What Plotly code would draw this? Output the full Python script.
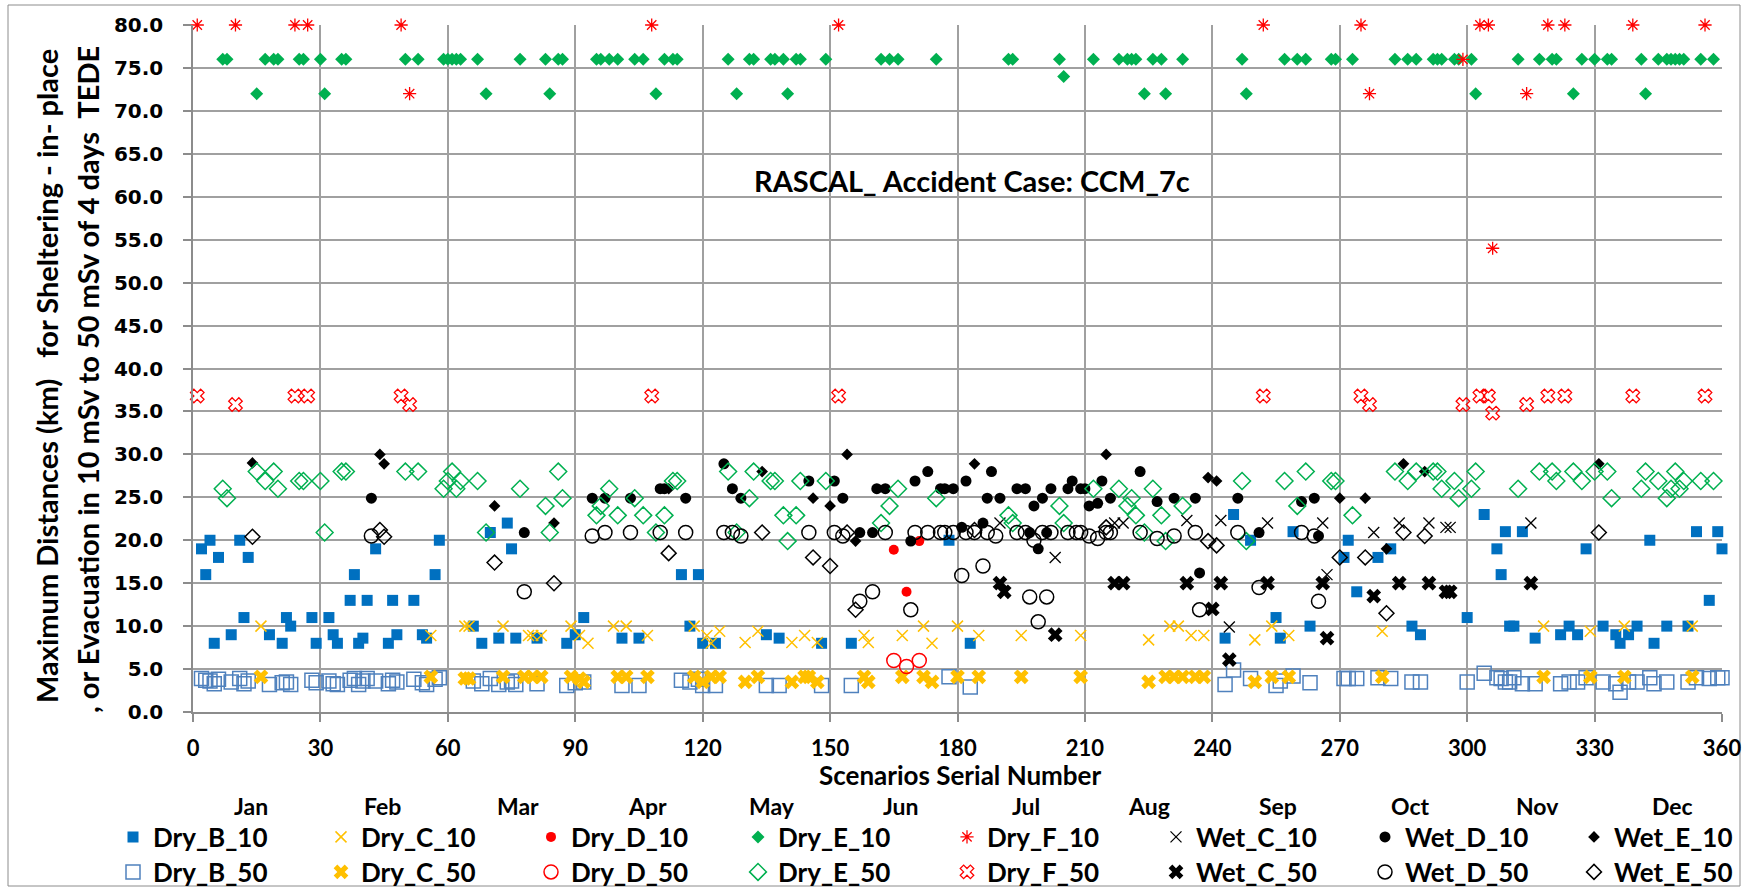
import plotly.graph_objects as go

# ---------------- data ----------------
# Dry, stability class B (scenario number, 10 mSv distance, 50 mSv distance)
dry_b_x = [2, 3, 4, 5, 6, 9, 11, 12, 13, 18, 21, 22, 23, 28, 29, 32, 33, 34, 37, 38,
           39, 40, 41, 43, 46, 47, 48, 52, 54, 55, 57, 58, 66, 68, 70, 72, 74, 75, 76, 81,
           88, 90, 92, 101, 105, 115, 117, 119, 120, 123, 135, 138, 148, 155, 178, 183, 243, 245, 249, 255,
           256, 259, 263, 271, 272, 274, 279, 282, 287, 289, 300, 304, 307, 308, 309, 310, 311, 313, 316, 322,
           324, 326, 328, 332, 335, 336, 338, 340, 343, 344, 347, 352, 354, 357, 359, 360]
dry_b_10 = [19, 16, 20, 8, 18, 9, 20, 11, 18, 9, 8, 11, 10, 11, 8, 11, 9, 8, 13, 16,
            8, 8.6, 13, 19, 8, 13, 9, 13, 9, 8.6, 16, 20, 10, 8, 20.9, 8.6, 22, 19, 8.6, 8.6,
            8, 9, 11, 8.6, 8.6, 16, 10, 16, 8, 8, 9, 8.6, 8, 8, 20, 8, 8.6, 23, 20, 11,
            8.6, 21, 10, 18, 20, 14, 18, 19, 10, 9, 11, 23, 19, 16, 21, 10, 10, 21, 8.6, 9,
            10, 9, 19, 10, 9, 8, 9, 10, 20, 8, 10, 10, 21, 13, 21, 19]
dry_b_50 = [3.9, 3.7, 3.6, 3.3, 3.8, 3.5, 3.9, 3.3, 3.6, 3.2, 3.4, 3.5, 3.2, 3.7, 3.4, 3.6, 3.3, 3.2, 3.7, 3.9,
            3.2, 3.6, 3.9, 3.6, 3.3, 3.7, 3.5, 3.8, 3.4, 3.2, 3.8, 4.0, 3.6, 3.3, 3.9, 3.2, 3.5, 3.6, 3.2, 3.3,
            3.1, 3.4, 3.5, 3.1, 3.1, 3.7, 3.5, 3.8, 3.1, 3.1, 3.1, 3.1, 3.1, 3.1, 4.1, 2.9, 3.2, 4.9, 3.9, 3.1,
            3.6, 4.2, 3.4, 3.9, 3.9, 3.9, 4.0, 3.9, 3.5, 3.5, 3.5, 4.5, 4.0, 3.9, 3.5, 3.5, 4.0, 3.3, 3.3, 3.3,
            3.5, 3.5, 4.0, 3.5, 3.3, 2.3, 3.5, 3.5, 4.0, 3.3, 3.5, 3.5, 4.0, 3.9, 4.0, 4.0]

# Dry, stability class C
dry_c10_x = [16, 56, 64, 65, 73, 79, 80, 82, 89, 91, 93, 99, 102, 107, 118, 121, 122, 124, 130, 133,
             141, 144, 147, 158, 159, 167, 172, 174, 180, 185, 195, 209, 225, 230, 232, 235, 238, 250, 254, 258,
             280, 318, 329, 337, 353]
dry_c10_y = [10.0, 8.9, 10.0, 10.0, 10.0, 8.9, 8.9, 8.9, 10.0, 8.9, 8.0, 10.0, 10.0, 8.9, 10.0, 8.9, 8.0, 9.4, 8.1, 9.4,
             8.1, 8.9, 8.1, 8.9, 8.1, 8.9, 10.0, 8.0, 10.0, 8.9, 8.9, 8.9, 8.4, 10.0, 10.0, 8.9, 8.9, 8.4, 10.0, 8.9,
             9.4, 10.0, 9.4, 10.0, 10.0]
dry_c50_x = [16, 56, 64, 65, 73, 78, 80, 82, 89, 91, 92, 100, 102, 107, 118, 120, 122, 124, 130, 133,
             141, 144, 145, 147, 158, 159, 167, 172, 174, 180, 185, 195, 209, 225, 229, 231, 233, 236, 238, 250,
             254, 258, 280, 318, 329, 337, 353]
dry_c50_y = [4.1, 4.1, 3.9, 3.9, 4.1, 4.1, 4.1, 4.1, 4.1, 3.9, 3.5, 4.1, 4.1, 4.1, 4.1, 3.5, 4.1, 4.1, 3.5, 4.1,
             3.5, 4.1, 4.1, 3.5, 4.1, 3.5, 4.1, 4.1, 3.5, 4.1, 4.1, 4.1, 4.1, 3.5, 4.1, 4.1, 4.1, 4.1, 4.1, 3.5,
             4.1, 4.1, 4.1, 4.1, 4.1, 4.1, 4.1]

# Dry, stability class D
dry_d_x = [165, 168, 171]
dry_d_10 = [18.9, 14.0, 19.9]
dry_d_50 = [6.0, 5.3, 6.0]

# Dry, stability class E
dry_e_x = [7, 8, 15, 17, 19, 20, 25, 26, 30, 31, 35, 36, 50, 53, 59, 60, 61, 62, 63, 67,
           69, 77, 83, 84, 86, 87,
           95, 96, 98, 100, 104, 106, 109, 111, 113, 114, 126, 128, 131, 132, 136, 137, 139, 140, 142, 143,
           149, 162, 164, 166, 175,
           192, 193, 204, 205, 212, 218, 220, 221, 222, 224, 226, 228, 229, 233, 247, 248, 257, 260, 262, 268,
           269, 273,
           283, 286, 288, 292, 293, 294, 297, 298, 301, 302, 312, 317, 320, 321, 325, 327, 330, 333, 334, 341,
           342, 345, 347, 348, 349, 350, 351, 355, 358]
dry_e_10 = [76, 76, 72, 76, 76, 76, 76, 76, 76, 72, 76, 76, 76, 76, 76, 76, 76, 76, 76, 76,
            72, 76, 76, 72, 76, 76,
            76, 76, 76, 76, 76, 76, 72, 76, 76, 76, 76, 72, 76, 76, 76, 76, 76, 72, 76, 76,
            76, 76, 76, 76, 76,
            76, 76, 76, 74, 76, 76, 76, 76, 76, 72, 76, 76, 72, 76, 76, 72, 76, 76, 76, 76,
            76, 76,
            76, 76, 76, 76, 76, 76, 76, 76, 76, 72, 76, 76, 76, 76, 72, 76, 76, 76, 76, 76,
            72, 76, 76, 76, 76, 76, 76, 76, 76]
dry_e_50 = [26.0, 24.9, 28.0, 26.9, 28.0, 26.0, 26.9, 26.9, 26.9, 20.9, 28.0, 28.0, 28.0, 28.0, 26.0, 26.9, 28.0, 26.0, 26.9, 26.9,
            20.9, 26.0, 24.0, 20.9, 28.0, 24.9,
            22.9, 24.0, 26.0, 22.9, 24.9, 22.9, 20.9, 22.9, 26.9, 26.9, 28.0, 20.9, 24.9, 28.0, 26.9, 26.9, 22.9, 19.9, 22.9, 26.9,
            26.9, 22.0, 24.0, 26.0, 24.9,
            22.9, 22.0, 24.0, 22.0, 26.0, 26.0, 24.0, 24.9, 22.9, 20.9, 26.0, 22.9, 19.9, 24.0, 26.9, 19.9, 26.9, 24.0, 28.0, 26.9,
            26.9, 22.9,
            28.0, 26.9, 28.0, 28.0, 28.0, 26.0, 26.9, 24.9, 26.0, 28.0, 26.0, 28.0, 28.0, 26.9, 28.0, 26.9, 28.0, 28.0, 24.9, 26.0,
            28.0, 26.9, 24.9, 26.0, 28.0, 26.0, 26.9, 26.9, 26.9]

# Dry, stability class F
dry_f_x = [1, 10, 24, 27, 49, 51, 108, 152, 252, 275, 277, 299, 303, 305, 306, 314, 319, 323, 339, 356]
dry_f_10 = [80, 80, 80, 80, 80, 72, 80, 80, 80, 80, 72, 76, 80, 80, 54, 72, 80, 80, 80, 80]
dry_f_50 = [36.8, 35.8, 36.8, 36.8, 36.8, 35.8, 36.8, 36.8, 36.8, 36.8, 35.8, 35.8, 36.8, 36.8, 34.8, 35.8, 36.8, 36.8, 36.8, 36.8]

# Wet, stability class C
wet_c10_x = [190, 203, 217, 219, 234, 242, 244, 253, 266, 267, 278, 284, 291, 295, 296, 315]
wet_c10_y = [22.0, 18.0, 22.0, 22.0, 22.3, 22.3, 9.9, 22.0, 22.0, 16.0, 20.9, 22.0, 22.0, 21.5, 21.5, 22.0]
wet_c50_x = [190, 191, 203, 217, 219, 234, 240, 242, 244, 253, 266, 267, 278, 284, 291, 295, 296, 315]
wet_c50_y = [15.0, 14.0, 9.0, 15.0, 15.0, 15.0, 12.0, 15.0, 6.1, 15.0, 15.0, 8.6, 13.5, 15.0, 15.0, 14.0, 14.0, 15.0]

# Wet, stability class D
wet_d10_x = [42, 78, 94, 97, 103, 110, 111, 116, 125, 127, 129, 145, 151, 153, 157, 160, 161, 163, 169, 170,
             173, 176, 177, 179, 181, 182, 186, 187, 188, 190, 194, 196, 197, 198, 199, 200, 201, 202, 206, 207,
             209, 210, 211, 213, 214, 216, 223, 227, 231, 236, 237, 246, 251, 261, 264, 265]
wet_d10_y = [24.9, 20.9, 24.9, 24.9, 24.9, 26.0, 26.0, 24.9, 28.9, 26.0, 24.9, 26.9, 26.9, 24.9, 20.9, 20.9, 26.0, 26.0, 19.9, 26.9,
             28.0, 26.0, 26.0, 26.0, 21.5, 26.9, 22.0, 24.9, 28.0, 24.9, 26.0, 26.0, 20.9, 24.0, 19.0, 24.9, 20.9, 26.0, 26.0, 26.9,
             26.0, 26.0, 24.0, 24.3, 26.9, 24.9, 28.0, 24.5, 24.9, 24.9, 16.2, 24.9, 20.9, 24.5, 24.9, 20.5]
wet_d50_x = [42, 78, 94, 97, 103, 110, 116, 125, 127, 129, 145, 151, 153, 157, 160, 163, 169, 170, 173, 176,
             177, 179, 181, 182, 184, 186, 187, 189, 194, 196, 197, 198, 199, 200, 201, 202, 206, 208, 209, 211,
             213, 215, 216, 223, 227, 231, 236, 237, 246, 251, 261, 264, 265]
wet_d50_y = [20.5, 14.0, 20.5, 20.9, 20.9, 20.9, 20.9, 20.9, 20.9, 20.5, 20.9, 20.9, 20.5, 12.9, 14.0, 20.9, 11.9, 20.9, 20.9, 20.9,
             20.9, 20.9, 15.9, 20.9, 20.9, 17.0, 20.9, 20.5, 20.9, 20.9, 13.4, 20.0, 10.5, 20.9, 13.4, 20.9, 20.9, 20.9, 20.9, 20.5,
             20.2, 20.9, 20.9, 20.9, 20.2, 20.5, 20.9, 11.9, 20.9, 14.5, 20.9, 20.5, 12.9]

# Wet, stability class E
wet_e_x = [14, 44, 45, 71, 85, 112, 134, 146, 150, 154, 156, 184, 215, 239, 241, 270, 276, 281, 285, 290, 331]
wet_e_10 = [29.0, 30.0, 28.9, 24.0, 22.0, 26.0, 28.0, 24.9, 24.0, 30.0, 19.9, 28.9, 30.0, 27.3, 26.9, 24.9, 24.9, 19.0, 28.9, 28.0, 28.9]
wet_e_50 = [20.4, 21.2, 20.4, 17.4, 15.0, 18.5, 20.9, 18.0, 17.0, 20.9, 11.9, 21.2, 21.5, 19.9, 19.4, 18.0, 18.0, 11.5, 20.9, 20.5, 20.9]

months = ["Jan", "Feb", "Mar", "Apr", "May", "Jun", "Jul", "Aug", "Sep", "Oct", "Nov", "Dec"]
x_ticks = list(range(0, 361, 30))

# ---------------- layout geometry (pixels) ----------------
W, H = 1747, 891
L, R, T, B = 193, 1722, 25, 712


def px_x(p):
    return (p - L) / (R - L)


def px_y(p):
    return (B - p) / (B - T)


CAL = "Lato, 'Liberation Sans', Arial, sans-serif"
BLUE, BLUE_L, GOLD, RED, GREEN, BLACK = "#0070C0", "#4F81BD", "#FFC000", "#FF0000", "#00B050", "#000000"

# name, x, y, symbol, colour, size, outline width, legend row, legend column
series = [
    ("Dry_B_10", dry_b_x, dry_b_10, "square", BLUE, 11, 0, 0, 0),
    ("Dry_C_10", dry_c10_x, dry_c10_y, "x-thin-open", GOLD, 11, 1.5, 0, 1),
    ("Dry_D_10", dry_d_x, dry_d_10, "circle", RED, 10, 0, 0, 2),
    ("Dry_E_10", dry_e_x, dry_e_10, "diamond", GREEN, 10, 0, 0, 3),
    ("Dry_F_10", dry_f_x, dry_f_10, "asterisk-open", RED, 11, 1.3, 0, 4),
    ("Wet_C_10", wet_c10_x, wet_c10_y, "x-thin-open", BLACK, 11, 1.3, 0, 5),
    ("Wet_D_10", wet_d10_x, wet_d10_y, "circle", BLACK, 11, 0, 0, 6),
    ("Wet_E_10", wet_e_x, wet_e_10, "diamond", BLACK, 9, 0, 0, 7),
    ("Dry_B_50", dry_b_x, dry_b_50, "square-open", BLUE_L, 14, 1.5, 1, 0),
    ("Dry_C_50", dry_c50_x, dry_c50_y, "x", GOLD, 13, 0, 1, 1),
    ("Dry_D_50", dry_d_x, dry_d_50, "circle-open", RED, 14, 1.5, 1, 2),
    ("Dry_E_50", dry_e_x, dry_e_50, "diamond-open", GREEN, 13, 1.5, 1, 3),
    ("Dry_F_50", dry_f_x, dry_f_50, "x-open", RED, 12, 1.3, 1, 4),
    ("Wet_C_50", wet_c50_x, wet_c50_y, "x", BLACK, 13, 0, 1, 5),
    ("Wet_D_50", wet_d50_x, wet_d50_y, "circle-open", BLACK, 14, 1.5, 1, 6),
    ("Wet_E_50", wet_e_x, wet_e_50, "diamond-open", BLACK, 11.5, 1.5, 1, 7),
]

legend_col_px = [133, 341, 551, 758, 967, 1176, 1385, 1594]
legend_row_px = [837, 872]
month_px = [251, 382, 518, 647, 772, 901, 1026, 1149, 1278, 1410, 1537, 1672]

fig = go.Figure()
layout_legends = {}
for i, (name, xs, ys, sym, col, size, lw, row, c) in enumerate(series):
    key = "legend" if i == 0 else f"legend{i + 1}"
    fig.add_trace(go.Scatter(
        x=xs, y=ys, name=name, mode="markers", cliponaxis=False,
        legend=key, showlegend=True,
        marker=dict(symbol=sym, color=col, size=size,
                    line=dict(width=lw, color=col)),
    ))
    layout_legends[key] = dict(
        visible=True,
        x=px_x(legend_col_px[c] - 20), xanchor="left",
        y=px_y(legend_row_px[row]), yanchor="middle",
        orientation="v", bgcolor="rgba(0,0,0,0)", borderwidth=0,
        font=dict(family=CAL, size=26, color="black", weight="bold"),
    )

annotations = [
    dict(text="RASCAL_ Accident Case: CCM_7c", x=px_x(972), y=px_y(181),
         font=dict(family=CAL, size=29, color="black", weight="bold")),
    dict(text="Scenarios Serial Number", x=px_x(960), y=px_y(775),
         font=dict(family=CAL, size=26, color="black", weight="bold")),
    dict(text="Maximum Distances (km)   for Sheltering - in- place", x=px_x(46), y=px_y(376),
         textangle=-90, font=dict(family=CAL, size=29, color="black", weight="bold")),
    dict(text=", or Evacuation in 10 mSv to 50 mSv of 4 days  TEDE", x=px_x(87), y=px_y(380),
         textangle=-90, font=dict(family=CAL, size=29, color="black", weight="bold")),
]
for m, p in zip(months, month_px):
    annotations.append(dict(text=m, x=px_x(p), y=px_y(806),
                            font=dict(family=CAL, size=23, color="black", weight="bold")))
for a in annotations:
    a.update(xref="paper", yref="paper", xanchor="center", yanchor="middle", showarrow=False)

fig.update_layout(
    width=W, height=H,
    margin=dict(l=L, r=W - R, t=T, b=H - B, pad=0, autoexpand=False),
    paper_bgcolor="white", plot_bgcolor="white",
    showlegend=True,
    annotations=annotations,
    shapes=[dict(type="rect", xref="paper", yref="paper",
                 x0=px_x(8), x1=px_x(1740), y0=px_y(886), y1=px_y(5),
                 line=dict(color="#8C8C8C", width=1), layer="below")],
    **layout_legends,
)

fig.update_xaxes(
    range=[0, 360], tickvals=x_ticks, ticktext=[str(v) for v in x_ticks],
    showgrid=True, gridcolor="#A0A0A0", gridwidth=1.5,
    showline=True, linecolor="#8C8C8C", linewidth=2, zeroline=False,
    ticks="outside", ticklen=8, tickcolor="#8C8C8C", tickwidth=1.5,
    ticklabelstandoff=8,
    tickfont=dict(family=CAL, size=22, color="black", weight="bold"),
)
fig.update_yaxes(
    range=[0, 80], dtick=5, tick0=0, tickformat=".1f",
    showgrid=True, gridcolor="#A0A0A0", gridwidth=1.5,
    showline=True, linecolor="#8C8C8C", linewidth=1.5, zeroline=False,
    ticks="outside", ticklen=8, tickcolor="#8C8C8C", tickwidth=1.5,
    ticklabelstandoff=16,
    tickfont=dict(family="'DejaVu Sans', Verdana, sans-serif", size=20, color="black", weight="bold"),
)

fig.write_html("out.html")
